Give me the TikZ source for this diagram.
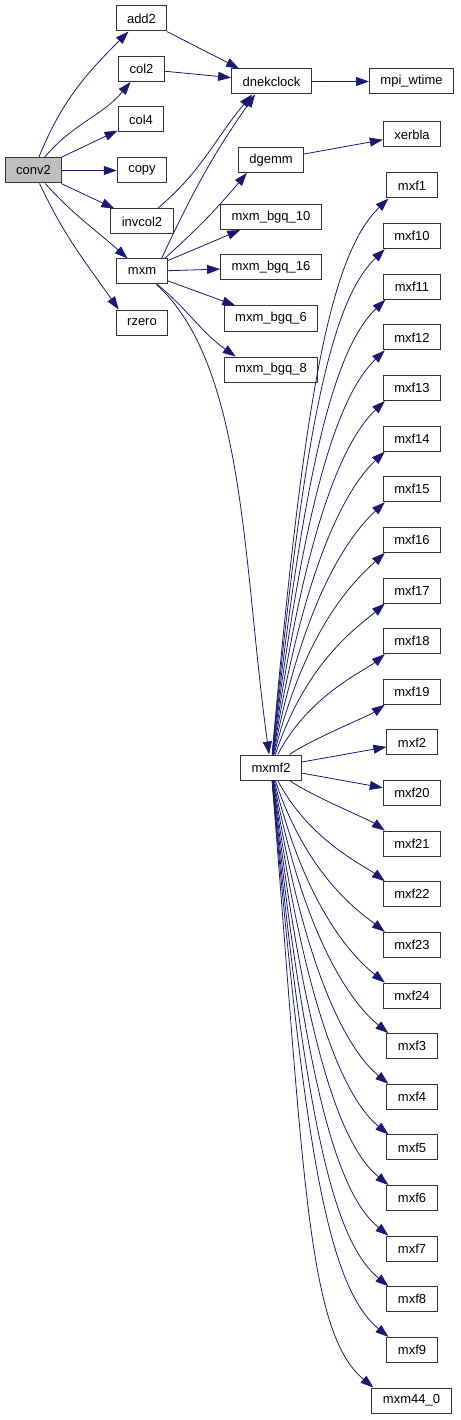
\documentclass[tikz,border=0pt]{standalone}
\usepackage{fontspec}
\setmainfont{Liberation Sans}
\usetikzlibrary{arrows.meta}
\definecolor{edgeblue}{RGB}{25,25,112}
\definecolor{rootgray}{RGB}{191,191,191}

\begin{document}
\begin{tikzpicture}[x=1pt,y=1pt,
  fn/.style={draw=black!80, line width=1pt, minimum height=25pt, inner xsep=11pt, inner ysep=0pt, font=\fontsize{13}{15}\selectfont},
  call/.style={draw=edgeblue, line width=0.8pt, -{Triangle[length=13pt,width=9pt]}}]
\useasboundingbox (0,0) rectangle (460,-1420);
% Root
\node[fn, fill=rootgray] (conv2) at (33.5,-170.5) {conv2};
% Called by conv2
\node[fn] (add2) at (141.5,-18.5) {add2};
\node[fn] (col2) at (141.5,-69) {col2};
\node[fn] (col4) at (141,-119.5) {col4};
\node[fn] (copy) at (142,-170.5) {copy};
\node[fn] (invcol2) at (142,-221.5) {invcol2};
\node[fn] (mxm) at (142,-271.5) {mxm};
\node[fn] (rzero) at (142,-322.5) {rzero};
% Middle column
\node[fn] (dnekclock) at (271.5,-81.5) {dnekclock};
\node[fn] (dgemm) at (271,-160) {dgemm};
\node[fn] (bgq10) at (271,-217) {mxm\_bgq\_10};
\node[fn] (bgq16) at (271,-267.5) {mxm\_bgq\_16};
\node[fn] (bgq6) at (271,-318.5) {mxm\_bgq\_6};
\node[fn] (bgq8) at (271,-369.5) {mxm\_bgq\_8};
\node[fn] (mxmf2) at (271,-767.5) {mxmf2};
% Right column
\node[fn] (mpiwtime) at (411.5,-81.5) {mpi\_wtime};
\node[fn] (xerbla) at (412,-134.5) {xerbla};
\foreach \n [count=\i from 0] in {1,10,11,12,13,14,15,16,17,18,19,2,20,21,22,23,24,3,4,5,6,7,8,9}
  \node[fn] (mxf\n) at (412,{-185.5-50.625*\i}) {mxf\n};
\node[fn] (mxm44) at (411.5,-1400.5) {mxm44\_0};

% conv2 calls
\draw[call] (conv2) to[out=68,in=225] (add2);
\draw[call] (conv2) to[out=50,in=230] (col2);
\draw[call] (conv2) -- (col4);
\draw[call] (conv2) -- (copy);
\draw[call] (conv2) -- (invcol2);
\draw[call] (conv2) to[out=-48,in=138] (mxm);
\draw[call] (conv2) to[out=-65,in=125] ([xshift=3pt]rzero.north west);
% timer
\draw[call] (add2) -- ([xshift=8pt]dnekclock.north west);
\draw[call] (col2) -- (dnekclock);
\draw[call] (invcol2) to[out=40,in=230] ([xshift=21pt]dnekclock.south west);
\draw[call] ([xshift=-6pt]mxm.north east) to[out=65,in=235] ([xshift=24pt]dnekclock.south west);
\draw[call] (dnekclock) -- (mpiwtime);
% mxm calls
\draw[call] ([xshift=-3pt]mxm.north east) to[out=42,in=230] ([xshift=9pt]dgemm.south west);
\draw[call] (dgemm) -- (xerbla);
\draw[call] (mxm) -- (bgq10);
\draw[call] (mxm) -- (bgq16);
\draw[call] (mxm) -- (bgq6);
\draw[call] (mxm) to[out=-40,in=145] ([xshift=12pt]bgq8.north west);
\draw[call] (mxm) .. controls +(-42:140) and +(98:200) .. (mxmf2);
% mxmf2 calls
\foreach \t [count=\lvl] in {mxf19,mxf18,mxf17,mxf16,mxf15,mxf14,mxf13,mxf12,mxf11,mxf10,mxf1}
  \draw[call] (mxmf2) .. controls +({90-55/\lvl}:{0.65*(25.1+50.625*\lvl)}) and +({225-10/\lvl}:{0.12*(25.1+50.625*\lvl)+10}) .. ([xshift=2pt]\t.south west);
\draw[call] (mxmf2) -- (mxf2);
\draw[call] (mxmf2) -- (mxf20);
\foreach \t [count=\lvl] in {mxf21,mxf22,mxf23,mxf24,mxf3,mxf4,mxf5,mxf6,mxf7,mxf8,mxf9,mxm44}
  \draw[call] (mxmf2) .. controls +({-90+55/\lvl}:{0.65*(25.5+50.625*\lvl)}) and +({140+5/\lvl}:{0.12*(25.5+50.625*\lvl)+10}) .. ([xshift=2pt]\t.north west);
\end{tikzpicture}
\end{document}
